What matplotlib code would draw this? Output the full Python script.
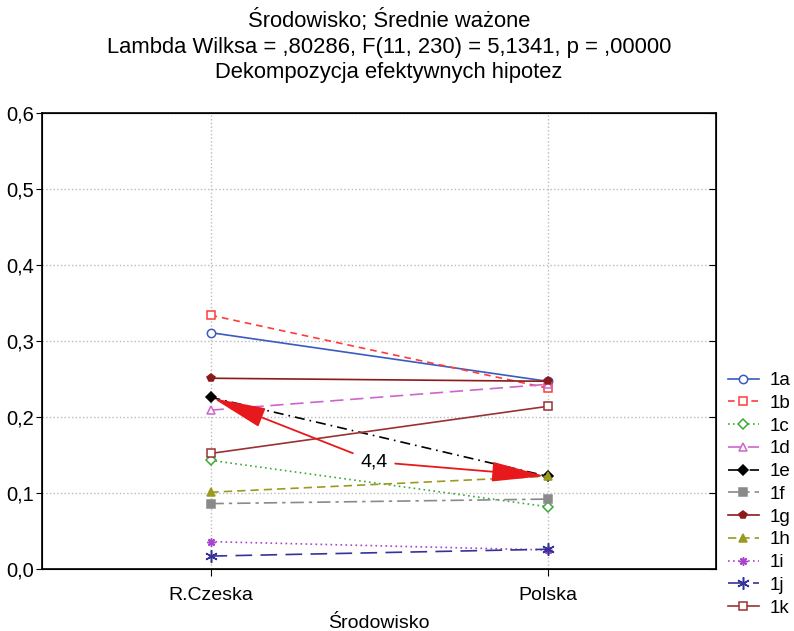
import numpy as np
import matplotlib.pyplot as plt
from matplotlib.ticker import FuncFormatter

plt.rcParams['font.family'] = ['Liberation Sans', 'DejaVu Sans']

categories = ["R.Czeska", "Polska"]
series_names = ["1a", "1b", "1c", "1d", "1e", "1f", "1g", "1h", "1i", "1j", "1k"]
v_1a = [0.311, 0.247]
v_1b = [0.334, 0.238]
v_1c = [0.143, 0.082]
v_1d = [0.209, 0.243]
v_1e = [0.226, 0.122]
v_1f = [0.086, 0.092]
v_1g = [0.251, 0.247]
v_1h = [0.101, 0.122]
v_1i = [0.036, 0.025]
v_1j = [0.017, 0.026]
v_1k = [0.152, 0.214]
values = [v_1a, v_1b, v_1c, v_1d, v_1e, v_1f, v_1g, v_1h, v_1i, v_1j, v_1k]
arrow_label = "4,4"
title = ("Środowisko; Średnie ważone\n"
         "Lambda Wilksa = ,80286, F(11, 230) = 5,1341, p = ,00000\n"
         "Dekompozycja efektywnych hipotez")

styles = [
    dict(color="#3a5bbf", ls="-", marker="o", mfc="white"),
    dict(color="#ff3b3b", ls=(0, (4, 3)), marker="s", mfc="white"),
    dict(color="#3aaa3a", ls=(0, (1, 2)), marker="D", mfc="white", ms=5),
    dict(color="#cc66cc", ls=(0, (8, 4)), marker="^", mfc="white"),
    dict(color="black", ls=(0, (6, 3, 1, 3)), marker="D", mfc="black", ms=5),
    dict(color="#8a8a8a", ls=(0, (8, 3, 2, 3)), marker="s", mfc="#8a8a8a"),
    dict(color="#8b1a1a", ls="-", marker="p", mfc="#8b1a1a"),
    dict(color="#9a9a1f", ls=(0, (5, 3)), marker="^", mfc="#9a9a1f"),
    dict(color="#aa44cc", ls=(0, (1, 2)), marker=(8, 2, 0), mfc="white"),
    dict(color="#333399", ls=(0, (10, 5)), marker=(6, 2, 0), mfc="white", ms=9),
    dict(color="#993333", ls="-", marker="s", mfc="white"),
]

fig = plt.figure(figsize=(7.94, 6.31), dpi=100)
ax = fig.add_axes([42 / 794, 1 - 569 / 631, (716 - 42) / 794, (569 - 113) / 631])

x = np.arange(len(categories))
for name, vals, st in zip(series_names, values, styles):
    ms = st.pop("ms", 6)
    ax.plot(x, vals, label=name, lw=1.2, ms=ms, mew=1.1, **st)

# double arrow with label between the 1e points
xm, ym = 0.485, 0.141
arrow_kw = dict(arrowstyle="-|>,head_length=2.4,head_width=0.45",
                color="#e8191c", lw=1.3, mutation_scale=14)
ax.annotate("", xy=(x[0], v_1e[0]), xytext=(xm - 0.055, ym + 0.01),
            arrowprops=arrow_kw)
ax.annotate("", xy=(x[1], v_1e[1]), xytext=(xm + 0.055, ym - 0.002),
            arrowprops=arrow_kw)
ax.text(xm, ym, arrow_label, ha="center", va="center", fontsize=14)

ax.set_xlim(-0.5, 1.5)
ax.set_ylim(0, 0.6)
ax.set_xticks(x)
ax.set_xticklabels(categories, fontsize=14)
ax.set_yticks(np.arange(0, 0.61, 0.1))
ax.yaxis.set_major_formatter(FuncFormatter(lambda v, p: f"{v:.1f}".replace(".", ",")))
ax.tick_params(axis="y", labelsize=14.5, direction="out", length=4, pad=2)
ax.tick_params(axis="x", direction="out", length=5, pad=8)
ax.grid(True, color="#bbbbbb", ls=":", lw=1)
for s in ax.spines.values():
    s.set_linewidth(1.2)

ax2 = ax.twinx()
ax2.set_ylim(0, 0.6)
ax2.set_yticks(np.arange(0, 0.61, 0.1))
ax2.tick_params(axis="y", direction="in", length=5, labelright=False)

ax.set_xlabel("Środowisko", fontsize=14, labelpad=8)
fig.text(389 / 794, 1 - 46 / 631, title, ha="center", va="center",
         fontsize=15.8, linespacing=1.28)

h, l = ax.get_legend_handles_labels()
fig.legend(h, l, loc="upper left", bbox_to_anchor=(728 / 794, 1 - 372 / 631),
           frameon=False, fontsize=13.5, handlelength=1.65, labelspacing=0.3,
           handletextpad=0.55, borderaxespad=0, borderpad=0)

fig.savefig("out.png", dpi=100)
